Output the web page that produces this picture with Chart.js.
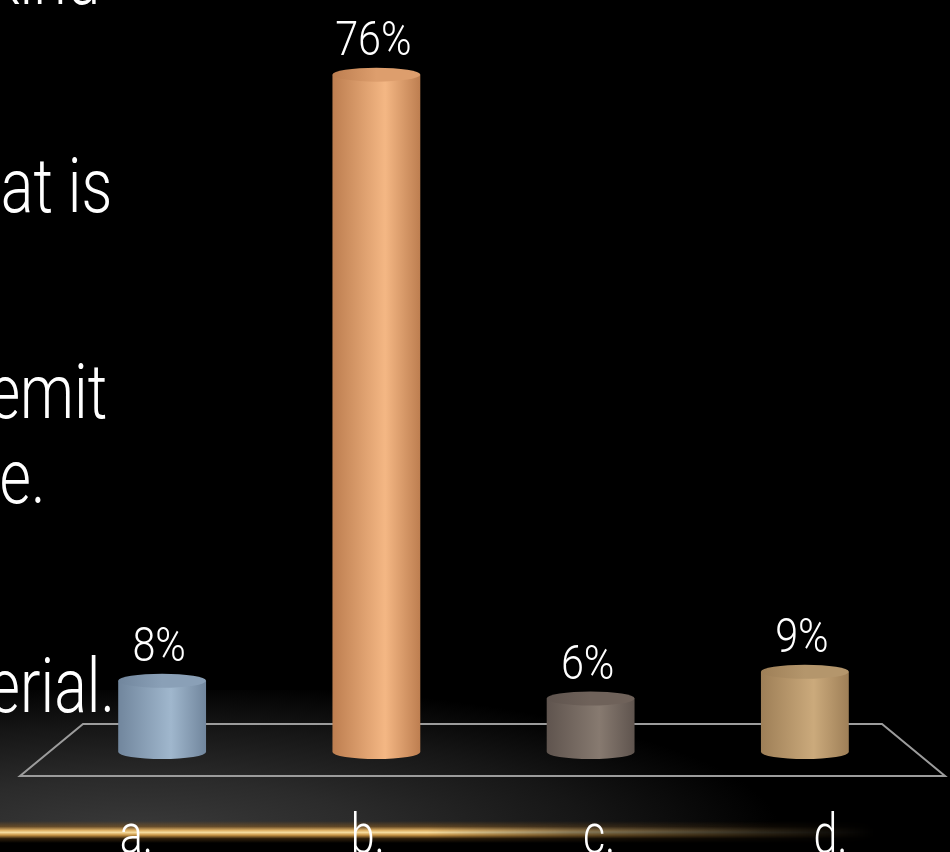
<!DOCTYPE html>
<html>
<head>
<meta charset="utf-8">
<title>Survey results</title>
<script src="https://cdn.jsdelivr.net/npm/chart.js"></script>
<style>
  html, body {
    margin: 0;
    padding: 0;
    width: 950px;
    height: 852px;
    overflow: hidden;
    background: #000;
  }
  .stage {
    position: relative;
    width: 950px;
    height: 852px;
    overflow: hidden;
    background: #000;
  }
  .glow {
    position: absolute;
    left: 0;
    top: 690px;
    width: 950px;
    height: 142px;
    background: radial-gradient(ellipse 640px 150px at 140px 142px, #3a3a3a 0%, #2b2b2b 35%, #161616 70%, rgba(0,0,0,0) 100%);
  }
  .slide-text {
    position: absolute;
    color: #fff;
    font-family: Roboto, "Liberation Sans", sans-serif;
    font-weight: 300;
    font-size: 76px;
    line-height: 1;
    white-space: nowrap;
    transform: scaleX(0.8);
    transform-origin: right center;
  }
  .gold-line {
    position: absolute;
    left: 0;
    top: 821px;
    width: 950px;
    height: 22px;
    background: linear-gradient(to bottom,
      rgba(0,0,0,0) 0%,
      rgba(140,95,35,0.55) 25%,
      #dcae62 42%,
      #f6dc9e 52%,
      #c89444 64%,
      rgba(90,60,20,0.5) 80%,
      rgba(0,0,0,0) 100%);
    -webkit-mask-image: linear-gradient(to right, #000 0%, #000 45%, rgba(0,0,0,0.55) 60%, rgba(0,0,0,0.18) 80%, rgba(0,0,0,0) 92%);
    mask-image: linear-gradient(to right, #000 0%, #000 45%, rgba(0,0,0,0.55) 60%, rgba(0,0,0,0.18) 80%, rgba(0,0,0,0) 92%);
  }
  #chart {
    position: absolute;
    left: 0;
    top: 0;
  }
</style>
</head>
<body>
<div class="stage">
  <div class="glow"></div>
  <div class="gold-line"></div>
  <div class="slide-text" style="top:-60px; right:850px;">kind</div>
  <div class="slide-text" style="top:148px; right:838px;">at is</div>
  <div class="slide-text" style="top:354px; right:843px;">emit</div>
  <div class="slide-text" style="top:439px; right:905px;">e.</div>
  <div class="slide-text" style="top:648px; right:835px;">erial.</div>
  <canvas id="chart" width="950" height="852"></canvas>
</div>
<script>
// answer options and share of responses
const categories = ['a.', 'b.', 'c.', 'd.'];
const percentages = [8, 76, 6, 9];

// cylinder shading: [shadow, highlight, top face]
const cylinderColors = [
  ['#71869d', '#a0b7cd', '#8aa0b7'],
  ['#bd7e50', '#f4b784', '#dd9e6d'],
  ['#5f544e', '#877a70', '#6f625a'],
  ['#9e7f57', '#cbaa7c', '#b4966c']
];

const labelFont = 'Roboto, "Liberation Sans", sans-serif';

function drawCylinder(ctx, x, top, base, w, colors) {
  const rx = w / 2;
  const ry = 7;
  const [dark, light, topFace] = colors;

  const body = ctx.createLinearGradient(x - rx, 0, x + rx, 0);
  body.addColorStop(0, dark);
  body.addColorStop(0.6, light);
  body.addColorStop(1, dark);

  ctx.beginPath();
  ctx.moveTo(x - rx, top);
  ctx.lineTo(x - rx, base);
  ctx.ellipse(x, base, rx, ry, 0, Math.PI, 0, true);
  ctx.lineTo(x + rx, top);
  ctx.closePath();
  ctx.fillStyle = body;
  ctx.fill();

  const cap = ctx.createLinearGradient(x - rx, 0, x + rx, 0);
  cap.addColorStop(0, dark);
  cap.addColorStop(0.5, topFace);
  cap.addColorStop(1, topFace);
  ctx.beginPath();
  ctx.ellipse(x, top, rx, ry, 0, 0, Math.PI * 2);
  ctx.fillStyle = cap;
  ctx.fill();
}

function narrowText(ctx, text, x, y, scaleX) {
  ctx.save();
  ctx.translate(x, y);
  ctx.scale(scaleX, 1);
  ctx.fillText(text, 0, 0);
  ctx.restore();
}

// floor plane drawn behind the bars
const floorPlugin = {
  id: 'floor',
  beforeDatasetsDraw(chart) {
    const { ctx, chartArea } = chart;
    const base = chart.scales.y.getPixelForValue(0);
    ctx.save();
    ctx.strokeStyle = '#9c9c9c';
    ctx.lineWidth = 2;
    ctx.beginPath();
    ctx.moveTo(chartArea.left + 28, base - 28);
    ctx.lineTo(chartArea.right - 30, base - 28);
    ctx.lineTo(chartArea.right + 33, base + 24);
    ctx.lineTo(chartArea.left - 35, base + 24);
    ctx.closePath();
    ctx.stroke();
    ctx.restore();
  }
};

// 3D cylinders, value labels and category labels
const cylinderPlugin = {
  id: 'cylinders',
  afterDatasetsDraw(chart) {
    const { ctx, chartArea } = chart;
    const meta = chart.getDatasetMeta(0);
    const cx = (chartArea.left + chartArea.right) / 2;

    meta.data.forEach((bar, i) => {
      const { x, y, base, width } = bar.getProps(['x', 'y', 'base', 'width'], true);
      drawCylinder(ctx, x, y, base, width, cylinderColors[i]);

      ctx.save();
      ctx.fillStyle = '#ffffff';
      ctx.textAlign = 'center';
      ctx.textBaseline = 'alphabetic';
      ctx.font = '300 48px ' + labelFont;
      narrowText(ctx, percentages[i] + '%', x - 3, y - 20, 0.86);

      // category labels sit on the front edge, spread out by perspective
      ctx.font = '300 55px ' + labelFont;
      narrowText(ctx, categories[i], cx + (x - cx) * 1.08, 853, 0.78);
      ctx.restore();
    });
  }
};

const ctx = document.getElementById('chart').getContext('2d');
new Chart(ctx, {
  type: 'bar',
  data: {
    labels: categories,
    datasets: [{
      data: percentages,
      backgroundColor: 'rgba(0,0,0,0)',
      borderWidth: 0,
      categoryPercentage: 1,
      barPercentage: 0.41
    }]
  },
  options: {
    responsive: false,
    animation: false,
    devicePixelRatio: 1,
    layout: {
      padding: { top: 39, bottom: 100, left: 55, right: 38 }
    },
    scales: {
      x: { display: false },
      y: { display: false, min: 0, max: 80 }
    },
    plugins: {
      legend: { display: false },
      tooltip: { enabled: false }
    }
  },
  plugins: [floorPlugin, cylinderPlugin]
});
</script>
</body>
</html>
